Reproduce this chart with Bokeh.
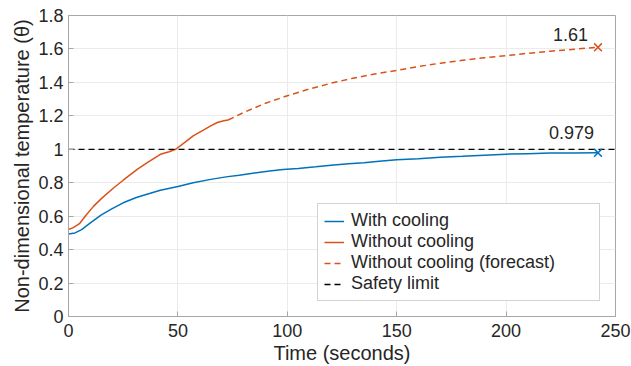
from bokeh.plotting import figure
from bokeh.models import (Range1d, FixedTicker, CustomJSTickFormatter, Legend,
                          LegendItem)
from bokeh.core.properties import value
from bokeh.embed import file_html
from bokeh.resources import INLINE

# ---- data ----
t_cool = [0, 3, 6, 10, 15, 20, 25, 31, 37, 42, 50, 57, 65, 72, 78, 85, 92, 98,
          105, 113, 120, 128, 135, 142, 150, 160, 170, 180, 190, 200, 210, 220, 230, 242]
theta_cool = [0.493, 0.50, 0.52, 0.56, 0.608, 0.645, 0.68, 0.712, 0.735, 0.755,
              0.777, 0.80, 0.82, 0.835, 0.845, 0.858, 0.87, 0.879, 0.885, 0.895,
              0.905, 0.913, 0.92, 0.928, 0.937, 0.943, 0.952, 0.958, 0.965, 0.971,
              0.974, 0.977, 0.978, 0.979]

t_nocool = [0, 2, 5, 8, 11.5, 15, 20.7, 25, 31.4, 36, 42, 46, 49, 53, 57, 61, 65, 68, 71, 73]
theta_nocool = [0.52, 0.53, 0.555, 0.605, 0.66, 0.705, 0.77, 0.815, 0.88, 0.92,
                0.97, 0.985, 1.0, 1.04, 1.08, 1.11, 1.14, 1.16, 1.17, 1.175]

t_forecast = [73, 80, 90, 100, 110, 120, 130, 140, 150, 160, 170, 180, 190, 200,
              210, 220, 230, 242]
theta_forecast = [1.175, 1.22, 1.275, 1.32, 1.36, 1.395, 1.425, 1.45, 1.472, 1.495,
                  1.515, 1.532, 1.547, 1.56, 1.574, 1.586, 1.597, 1.61]

safety_t = [0, 250]
safety_theta = [1.0, 1.0]

x_ticks = [0, 50, 100, 150, 200, 250]
y_ticks = [0, 0.2, 0.4, 0.6, 0.8, 1.0, 1.2, 1.4, 1.6, 1.8]

BLUE = "#0072BD"
ORANGE = "#D95319"
TXT = "#262626"
FONT = "Liberation Sans"

p = figure(width=631, height=366, output_backend="svg", toolbar_location=None,
           x_range=Range1d(0, 250), y_range=Range1d(0, 1.8),
           min_border_left=68, min_border_right=16, min_border_top=15,
           min_border_bottom=48)
p.background_fill_color = "white"
p.outline_line_color = "#a6a6a6"
p.outline_line_width = 1

for ax in (p.xaxis[0], p.yaxis[0]):
    ax.axis_line_color = "#a6a6a6"
    ax.major_tick_line_color = "#a6a6a6"
    ax.major_tick_in = 5
    ax.major_tick_out = 0
    ax.minor_tick_line_color = None
    ax.major_label_text_font = FONT
    ax.major_label_text_font_size = "18px"
    ax.major_label_text_color = TXT
    ax.axis_label_text_font = FONT
    ax.axis_label_text_font_size = "20px"
    ax.axis_label_text_font_style = "normal"
    ax.axis_label_text_color = TXT

p.xaxis.ticker = FixedTicker(ticks=x_ticks)
p.yaxis.ticker = FixedTicker(ticks=y_ticks)
p.yaxis.formatter = CustomJSTickFormatter(code="return Number(tick.toFixed(1)).toString();")
p.xaxis.axis_label = "Time (seconds)"
p.yaxis.axis_label = "Non-dimensional temperature (θ)"
p.xaxis.major_label_standoff = 7
p.xaxis.axis_label_standoff = 2
p.yaxis.major_label_standoff = 5
p.yaxis.axis_label_standoff = 2

p.grid.grid_line_color = "#ebebeb"
p.xgrid.ticker = FixedTicker(ticks=x_ticks)
p.ygrid.ticker = FixedTicker(ticks=y_ticks)

r_cool = p.line(t_cool, theta_cool, line_color=BLUE, line_width=1.5)
r_nocool = p.line(t_nocool, theta_nocool, line_color=ORANGE, line_width=1.5)
r_fore = p.line(t_forecast, theta_forecast, line_color=ORANGE, line_width=1.5,
                line_dash="6 4")
r_safe = p.line(safety_t, safety_theta, line_color="black", line_width=1.3,
                line_dash="6 4")

p.scatter([t_cool[-1]], [theta_cool[-1]], marker="x", size=11, line_width=1.5,
          line_color=BLUE)
p.scatter([t_forecast[-1]], [theta_forecast[-1]], marker="x", size=11, line_width=1.5,
          line_color=ORANGE)

p.text([t_cool[-1]], [theta_cool[-1]], text=[f"{theta_cool[-1]:.3g}"],
       text_font=value(FONT), text_font_size="18px", text_color=TXT,
       text_align="right", text_baseline="middle", x_offset=-4, y_offset=-20)
p.text([t_forecast[-1]], [theta_forecast[-1]], text=[f"{theta_forecast[-1]:.3g}"],
       text_font=value(FONT), text_font_size="18px", text_color=TXT,
       text_align="right", text_baseline="middle", x_offset=-10, y_offset=-13)

legend = Legend(items=[
    LegendItem(label="With cooling", renderers=[r_cool]),
    LegendItem(label="Without cooling", renderers=[r_nocool]),
    LegendItem(label="Without cooling (forecast)", renderers=[r_fore]),
    LegendItem(label="Safety limit", renderers=[r_safe]),
], location="bottom_right")
legend.margin = 15
legend.padding = 6
legend.spacing = 0
legend.label_height = 20
legend.glyph_height = 20
legend.glyph_width = 20
legend.label_width = 242
legend.label_standoff = 7
legend.label_text_font = FONT
legend.label_text_font_size = "18px"
legend.label_text_color = TXT
legend.border_line_color = "#a6a6a6"
legend.border_line_width = 1
legend.background_fill_color = "white"
legend.background_fill_alpha = 1
p.add_layout(legend)

open("out.html", "w").write(file_html(p, INLINE))
